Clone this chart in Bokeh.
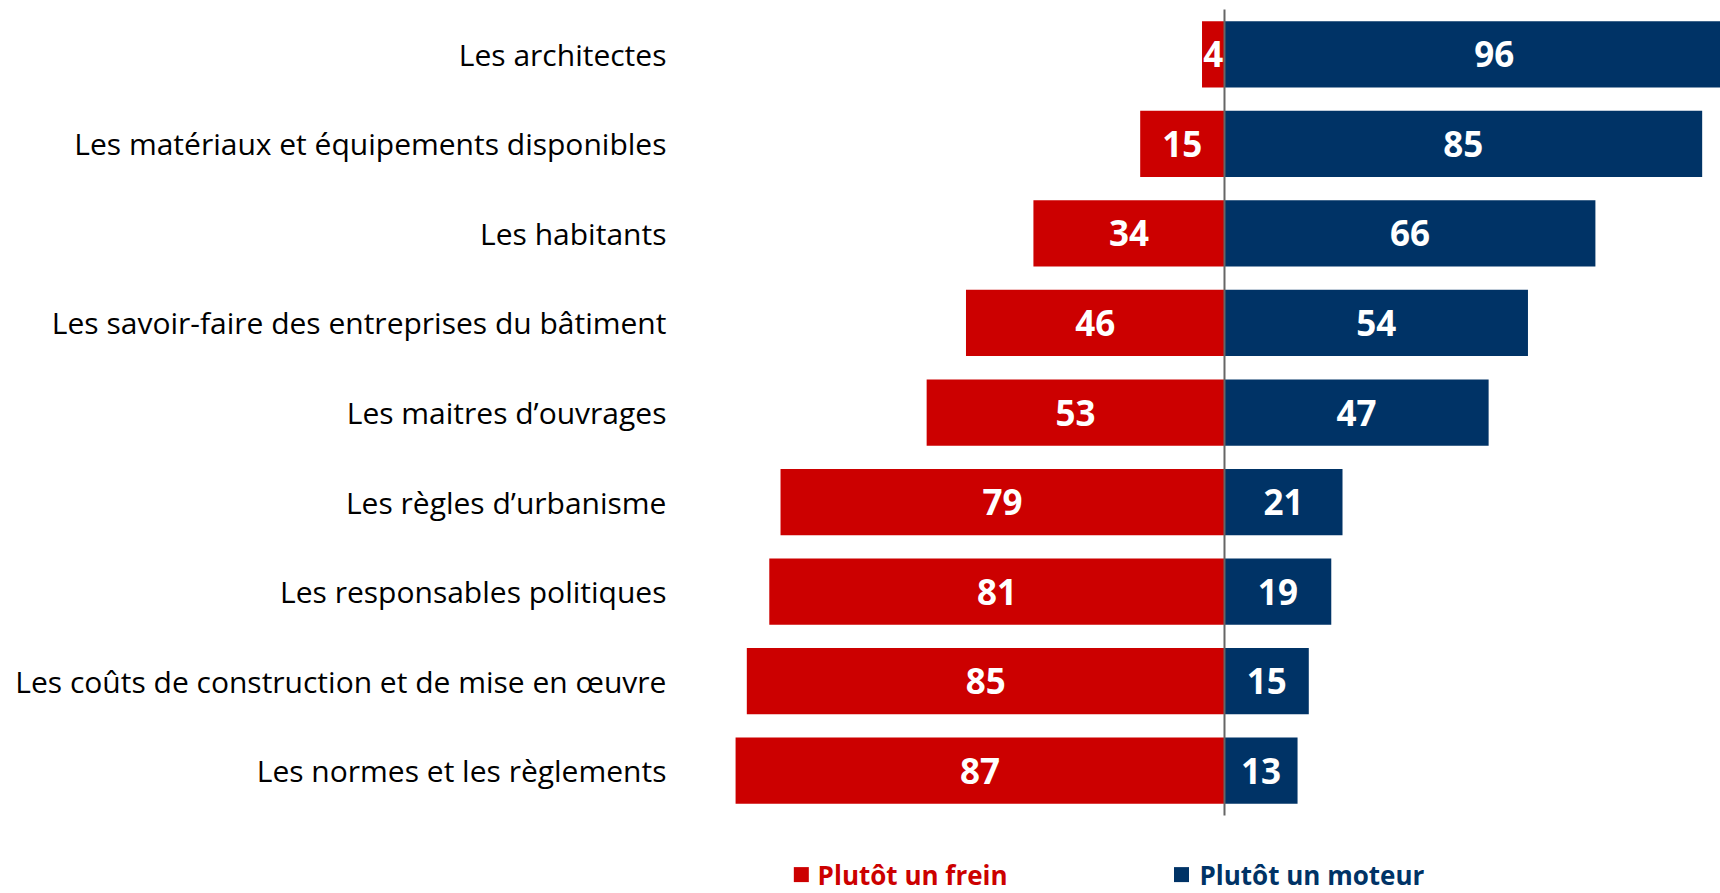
from bokeh.plotting import figure
from bokeh.models import Range1d, ColumnDataSource
from bokeh.core.properties import value
from bokeh.embed import file_html
from bokeh.resources import INLINE

categories = [
    "Les architectes",
    "Les matériaux et équipements disponibles",
    "Les habitants",
    "Les savoir-faire des entreprises du bâtiment",
    "Les maitres d\u2019ouvrages",
    "Les règles d\u2019urbanisme",
    "Les responsables politiques",
    "Les coûts de construction et de mise en \u0153uvre",
    "Les normes et les règlements",
]
frein = [4, 15, 34, 46, 53, 79, 81, 85, 87]
moteur = [96, 85, 66, 54, 47, 21, 19, 15, 13]
series_names = ["Plutôt un frein", "Plutôt un moteur"]

RED = "#CC0000"
NAVY = "#003366"
FONT = "Open Sans"

W, H = 1720, 893
p = figure(width=W, height=H, output_backend="svg", toolbar_location=None,
           x_range=Range1d(-217.8, 88.26), y_range=Range1d(9.371, -0.601),
           min_border=0, outline_line_color=None)
p.axis.visible = False
p.grid.visible = False
p.background_fill_color = "white"
p.border_fill_color = "white"

rows = list(range(len(categories)))
src = ColumnDataSource(dict(
    y=rows,
    cat=categories,
    fl=[-v for v in frein],
    fm=[-v / 2 for v in frein],
    ft=[str(v) for v in frein],
    mr=moteur,
    mm=[v / 2 for v in moteur],
    mt=[str(v) for v in moteur],
))

bh = 0.74
p.hbar(y="y", left="fl", right=0, height=bh, source=src, fill_color=RED, line_color=None)
p.hbar(y="y", left=0, right="mr", height=bh, source=src, fill_color=NAVY, line_color=None)

# zero line
p.segment(x0=[0], y0=[-0.5], x1=[0], y1=[len(categories) - 0.5], line_color="#666666", line_width=2)

# value labels
p.text(x="fm", y="y", text="ft", source=src, text_color="white",
       text_font=value(FONT), text_font_style="bold", text_font_size="35px",
       text_align="center", text_baseline="middle")
p.text(x="mm", y="y", text="mt", source=src, text_color="white",
       text_font=value(FONT), text_font_style="bold", text_font_size="35px",
       text_align="center", text_baseline="middle")

# category labels
p.text(x=-99.3, y="y", text="cat", source=src, text_color="#000000",
       text_font=value(FONT), text_font_size="30px",
       text_align="right", text_baseline="middle")

# legend
ly = 9.16
p.scatter(x=[-75.3, -7.65], y=[ly, ly], marker="square", size=15,
          fill_color=[RED, NAVY], line_color=None)
p.text(x=[-72.4], y=[ly], text=[series_names[0]], text_color=RED,
       text_font=value(FONT), text_font_style="bold", text_font_size="26px",
       text_align="left", text_baseline="middle")
p.text(x=[-4.45], y=[ly], text=[series_names[1]], text_color=NAVY,
       text_font=value(FONT), text_font_style="bold", text_font_size="26px",
       text_align="left", text_baseline="middle")

open("out.html", "w").write(file_html(p, INLINE))
